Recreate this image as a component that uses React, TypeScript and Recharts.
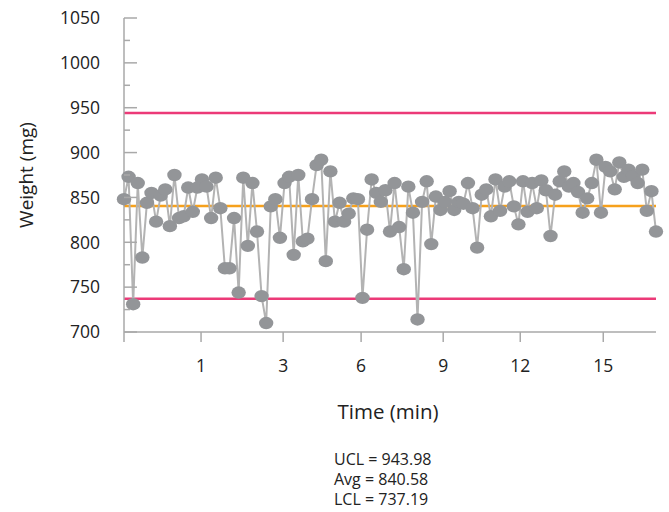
import React from 'react';
import { LineChart, Line, XAxis, YAxis, ReferenceLine } from 'recharts';

// sample weights (mg), in order of measurement
const weights = [
  848, 873, 731, 866, 783, 844, 855, 823, 852, 859, 818, 875, 827, 829, 861, 834,
  861, 870, 862, 827, 872, 838, 771, 771, 827, 744, 872, 796, 866, 812, 740,
  710, 840, 848, 805, 866, 873, 786, 875, 801, 804, 848, 886, 892, 779, 879,
  823, 844, 823, 832, 849, 848, 738, 814, 870, 855, 845, 858, 812,
  866, 817, 770, 862, 833, 714, 845, 868, 798, 851, 836, 845, 857, 836, 845,
  843, 866, 838, 794, 853, 859, 829, 870, 835, 862, 868, 840, 820, 868,
  834, 866, 838, 869, 858, 807, 853, 868, 879, 862, 866, 856, 833, 849, 866,
  892, 833, 884, 879, 859, 889, 873, 881, 874, 866, 881, 835, 857, 812,
];

// x ticks sit at sample positions, labelled in minutes
const xTicks = [0, 16.8, 34.7, 51.7, 69.6, 86.4, 104.5];
const xTickLabels = ['', '1', '3', '6', '9', '12', '15'];

const yTicks = [700, 725, 750, 775, 800, 825, 850, 875, 900, 925, 950, 975, 1000, 1025, 1050];

const UCL = 943.98;
const AVG = 840.58;
const LCL = 737.19;

const statLines = [`UCL = ${UCL.toFixed(2)}`, `Avg = ${AVG.toFixed(2)}`, `LCL = ${LCL.toFixed(2)}`];

const data = weights.map((w, i) => ({ sample: i, weight: w }));

const FONT = '"Open Sans", "Noto Sans", sans-serif';
const AXIS = '#a9a9a9';
const TEXT = '#222';
const PLOT_LEFT = 124;

const YTick = (props: any) => {
  const { y, payload } = props;
  const major = payload.value % 50 === 0;
  return (
    <g>
      <line x1={PLOT_LEFT} x2={PLOT_LEFT + (major ? 13 : 6)} y1={y} y2={y} stroke={AXIS} strokeWidth={1.5} />
      {major && (
        <text x={100} y={y} dy="0.36em" textAnchor="end" fill={TEXT} fontSize={17.5}>
          {payload.value}
        </text>
      )}
    </g>
  );
};

const Dot = (props: any) => {
  const { cx, cy, index } = props;
  return <ellipse key={index} cx={cx} cy={cy} rx={7.2} ry={6.2} fill="#939598" />;
};

export default function App() {
  return (
    <div style={{ position: 'absolute', left: 0, top: 0, width: 669, height: 512, fontFamily: FONT, color: TEXT, background: '#fff' }}>
      <LineChart width={669} height={512} data={data} margin={{ top: 18, right: 13, bottom: 0, left: 0 }}>
        <XAxis
          dataKey="sample"
          type="number"
          domain={[0, weights.length - 1]}
          ticks={xTicks}
          interval={0}
          tickFormatter={(v: number) => xTickLabels[xTicks.indexOf(v)]}
          height={180}
          tickSize={10}
          tickMargin={18}
          stroke={AXIS}
          strokeWidth={1.5}
          tick={{ fill: TEXT, fontSize: 17.5 }}
        />
        <YAxis
          type="number"
          domain={[700, 1050]}
          ticks={yTicks}
          interval={0}
          width={124}
          tickLine={false}
          stroke={AXIS}
          strokeWidth={1.5}
          tick={<YTick />}
        />
        <ReferenceLine y={UCL} stroke="#ec3a78" strokeWidth={2.5} />
        <ReferenceLine y={AVG} stroke="#f6a11c" strokeWidth={2.5} />
        <ReferenceLine y={LCL} stroke="#ec3a78" strokeWidth={2.5} />
        <Line
          dataKey="weight"
          stroke="#b3b3b3"
          strokeWidth={2}
          dot={<Dot />}
          activeDot={false}
          isAnimationActive={false}
        />
      </LineChart>
      <div style={{ position: 'absolute', left: 26, top: 175, transform: 'translate(-50%, -50%) rotate(-90deg)', fontSize: 19, whiteSpace: 'nowrap' }}>
        Weight (mg)
      </div>
      <div style={{ position: 'absolute', left: 388, top: 411, transform: 'translate(-50%, -50%)', fontSize: 20.5, whiteSpace: 'nowrap' }}>
        Time (min)
      </div>
      {statLines.map((s, i) => (
        <div
          key={s}
          style={{ position: 'absolute', left: 334, top: 451 + i * 20, fontSize: 16, lineHeight: '17px', whiteSpace: 'nowrap' }}
        >
          {s}
        </div>
      ))}
    </div>
  );
}
